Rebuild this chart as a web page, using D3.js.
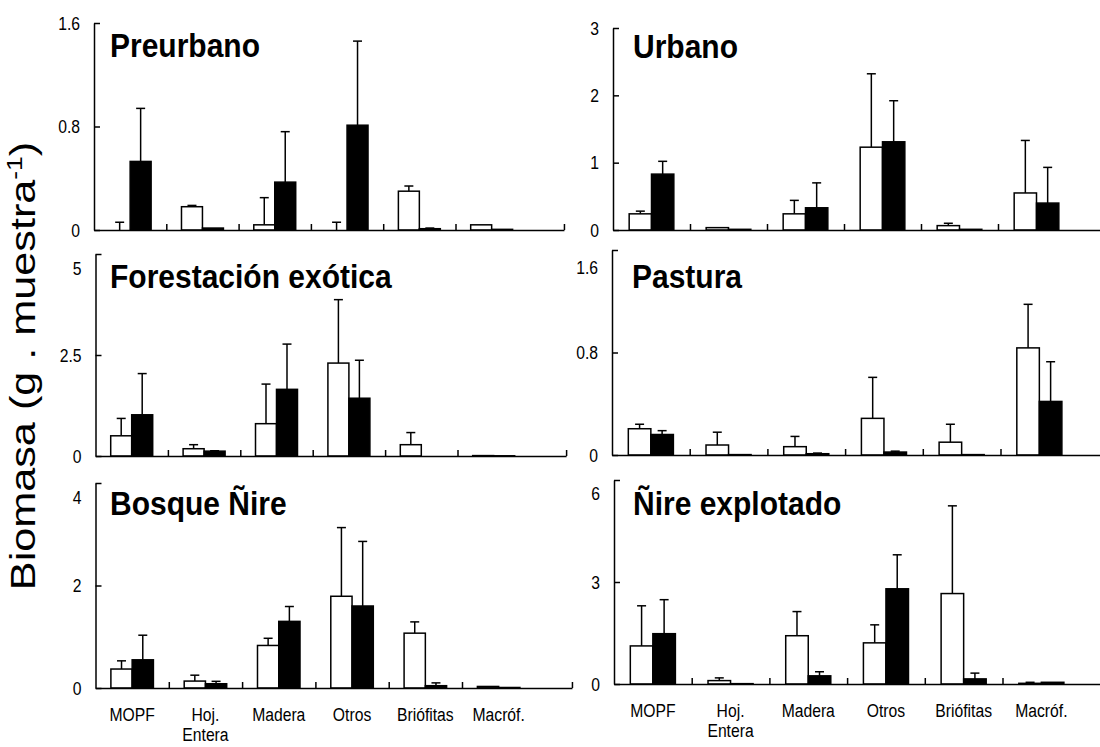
<!DOCTYPE html>
<html>
<head>
<meta charset="utf-8">
<script src="https://cdn.jsdelivr.net/npm/d3@7"></script>
<style>
body { margin: 0; background: #fff; }
svg text { font-family: "Liberation Sans", Arial, sans-serif; fill: #000; }
</style>
</head>
<body>
<script>
var width = 1100,
    height = 747;

/***** data *****/
var categories = ["MOPF", "Hoj. Entera", "Madera", "Otros", "Briófitas", "Macróf."];
var panelNames = ["Preurbano", "Urbano", "Forestación exótica", "Pastura", "Bosque Ñire", "Ñire explotado"];
var yMax = [1.6, 3, 5, 1.6, 4, 6];
var yTicks = [[0, 0.8, 1.6], [0, 1, 2, 3], [0, 2.5, 5], [0, 0.8, 1.6], [0, 2, 4], [0, 3, 6]];

// white bars (mean, error)
var openMean = [
    [0, 0.18, 0.04, 0, 0.30, 0.04],
    [0.24, 0.035, 0.24, 1.23, 0.065, 0.55],
    [0.50, 0.18, 0.80, 2.30, 0.28, 0.01],
    [0.205, 0.078, 0.065, 0.286, 0.10, 0.836],
    [0.37, 0.135, 0.83, 1.79, 1.07, 0.03],
    [1.12, 0.10, 1.42, 1.21, 2.66, 0.02]
];
var openErr = [
    [0.06, 0.01, 0.21, 0.06, 0.04, 0],
    [0.04, 0, 0.20, 1.09, 0.035, 0.78],
    [0.43, 0.10, 0.98, 1.57, 0.30, 0],
    [0.035, 0.10, 0.08, 0.32, 0.14, 0.34],
    [0.16, 0.115, 0.14, 1.34, 0.22, 0],
    [1.18, 0.08, 0.71, 0.53, 2.58, 0.03]
];
// black bars (mean, error)
var blackMean = [
    [0.53, 0.015, 0.37, 0.81, 0.01, 0.005],
    [0.83, 0.01, 0.33, 1.31, 0.01, 0.40],
    [1.02, 0.12, 1.65, 1.43, 0, 0.005],
    [0.16, 0.003, 0.01, 0.023, 0.003, 0.418],
    [0.55, 0.083, 1.30, 1.60, 0.045, 0.01],
    [1.48, 0.01, 0.24, 2.80, 0.15, 0.05]
];
var blackErr = [
    [0.41, 0, 0.39, 0.65, 0.005, 0],
    [0.19, 0, 0.37, 0.61, 0, 0.53],
    [1.02, 0.01, 1.12, 0.94, 0, 0],
    [0.03, 0, 0.005, 0.007, 0, 0.31],
    [0.48, 0.047, 0.29, 1.26, 0.055, 0],
    [1.00, 0, 0.12, 1.00, 0.17, 0]
];

/***** layout of each panel *****/
var frames = [
    {x0: 94,   step: 72.3, y0: 230, yTop: 23,  titleX: 110, titleY: 57,  shift: 0},
    {x0: 613,  step: 77,   y0: 230, yTop: 28,  titleX: 633, titleY: 58,  shift: 0},
    {x0: 95.5, step: 72.4, y0: 456, yTop: 254, titleX: 110, titleY: 288, shift: 14},
    {x0: 612,  step: 77.7, y0: 455, yTop: 250, titleX: 632, titleY: 288, shift: 17},
    {x0: 95.5, step: 73.3, y0: 688, yTop: 483, titleX: 110, titleY: 515, shift: 14},
    {x0: 614,  step: 77.7, y0: 684, yTop: 480, titleX: 633, titleY: 515, shift: 13}
];

var stretch = 1.2;   // the picture is taller than wide

var svg = d3.select("body").append("svg")
    .attr("width", width)
    .attr("height", height);

panelNames.forEach(function(name, i) {
    var f = frames[i];
    var g = svg.append("g");

    var x = d3.scaleBand()
        .domain(categories)
        .range([f.x0, f.x0 + 6 * f.step]);
    var y = d3.scaleLinear()
        .domain([0, yMax[i]])
        .range([f.y0, f.yTop]);
    var bw = x.bandwidth() * 0.29;

    var series = [
        {mean: openMean[i], err: openErr[i], fill: "#fff", off: -bw},
        {mean: blackMean[i], err: blackErr[i], fill: "#000", off: 0}
    ];

    series.forEach(function(s) {
        var rows = categories.map(function(c, j) {
            return {c: c, v: s.mean[j], e: s.err[j]};
        });
        var cx = function(d) { return x(d.c) + x.bandwidth() / 2 + s.off + bw / 2; };

        // error bars (upper only)
        var eb = g.selectAll(null)
            .data(rows.filter(function(d) { return d.e > 0; }))
            .enter().append("g")
            .attr("stroke", "#000")
            .attr("stroke-width", 1.5);
        eb.append("line")
            .attr("x1", cx)
            .attr("x2", cx)
            .attr("y1", function(d) { return y(d.v); })
            .attr("y2", function(d) { return y(d.v + d.e); });
        eb.append("line")
            .attr("x1", function(d) { return cx(d) - 4.5; })
            .attr("x2", function(d) { return cx(d) + 4.5; })
            .attr("y1", function(d) { return y(d.v + d.e); })
            .attr("y2", function(d) { return y(d.v + d.e); });

        g.selectAll(null)
            .data(rows)
            .enter().append("rect")
            .attr("x", function(d) { return x(d.c) + x.bandwidth() / 2 + s.off; })
            .attr("width", bw)
            .attr("y", function(d) { return y(d.v); })
            .attr("height", function(d) { return y(0) - y(d.v); })
            .attr("fill", s.fill)
            .attr("stroke", "#000")
            .attr("stroke-width", 1.5);
    });

    // y axis
    var ya = g.append("g")
        .attr("transform", "translate(" + f.x0 + ",0)")
        .call(d3.axisLeft(y)
            .tickValues(yTicks[i])
            .tickSize(-6)
            .tickSizeOuter(0)
            .tickPadding(14)
            .tickFormat(function(d) { return String(d); }));
    ya.select(".domain").attr("stroke-width", 1.5);
    ya.selectAll(".tick line").attr("stroke-width", 1.5);
    ya.selectAll(".tick text")
        .attr("font-size", 15.7)
        .attr("font-family", null)
        .attr("transform", function(d) {
            var dy = (d === yMax[i]) ? f.shift : 0;
            return "translate(0," + dy + ") scale(1," + stretch + ")";
        });

    // x axis: ticks between categories, line runs half a category further
    var xl = d3.scaleLinear().domain([0, 6.5]).range([f.x0, f.x0 + 6.5 * f.step]);
    var xa = g.append("g")
        .attr("transform", "translate(0," + f.y0 + ")")
        .call(d3.axisBottom(xl)
            .tickValues([1, 2, 3, 4, 5, 6.5])
            .tickSize(-6)
            .tickSizeOuter(0)
            .tickFormat(""));
    xa.select(".domain").attr("stroke-width", 1.5);
    xa.selectAll(".tick line").attr("stroke-width", 1.5);

    // category labels on the bottom row
    if (i >= 4) {
        var lab = g.selectAll(null)
            .data(categories)
            .enter().append("text")
            .attr("text-anchor", "middle")
            .attr("font-size", 15.7)
            .attr("transform", function(d) {
                return "translate(" + (x(d) + x.bandwidth() / 2) + "," + (f.y0 + 33) + ") scale(1," + stretch + ")";
            });
        lab.selectAll("tspan")
            .data(function(d) { return d.split(" "); })
            .enter().append("tspan")
            .attr("x", 0)
            .attr("dy", function(d, k) { return k === 0 ? 0 : 17; })
            .text(function(d) { return d; });
    }

    // panel title
    g.append("text")
        .attr("transform", "translate(" + f.titleX + "," + f.titleY + ") scale(1,1.12)")
        .attr("font-size", 30)
        .attr("font-weight", "bold")
        .text(name);
});

// y label
var yl = svg.append("text")
    .attr("text-anchor", "middle")
    .attr("font-size", 36)
    .attr("transform", "translate(35,366) scale(1,1.2) rotate(-90)");
yl.append("tspan").text("Biomasa (g . muestra");
yl.append("tspan").attr("font-size", 22).attr("dy", -13).text("-1");
yl.append("tspan").attr("dy", 13).text(")");
</script>
</body>
</html>
